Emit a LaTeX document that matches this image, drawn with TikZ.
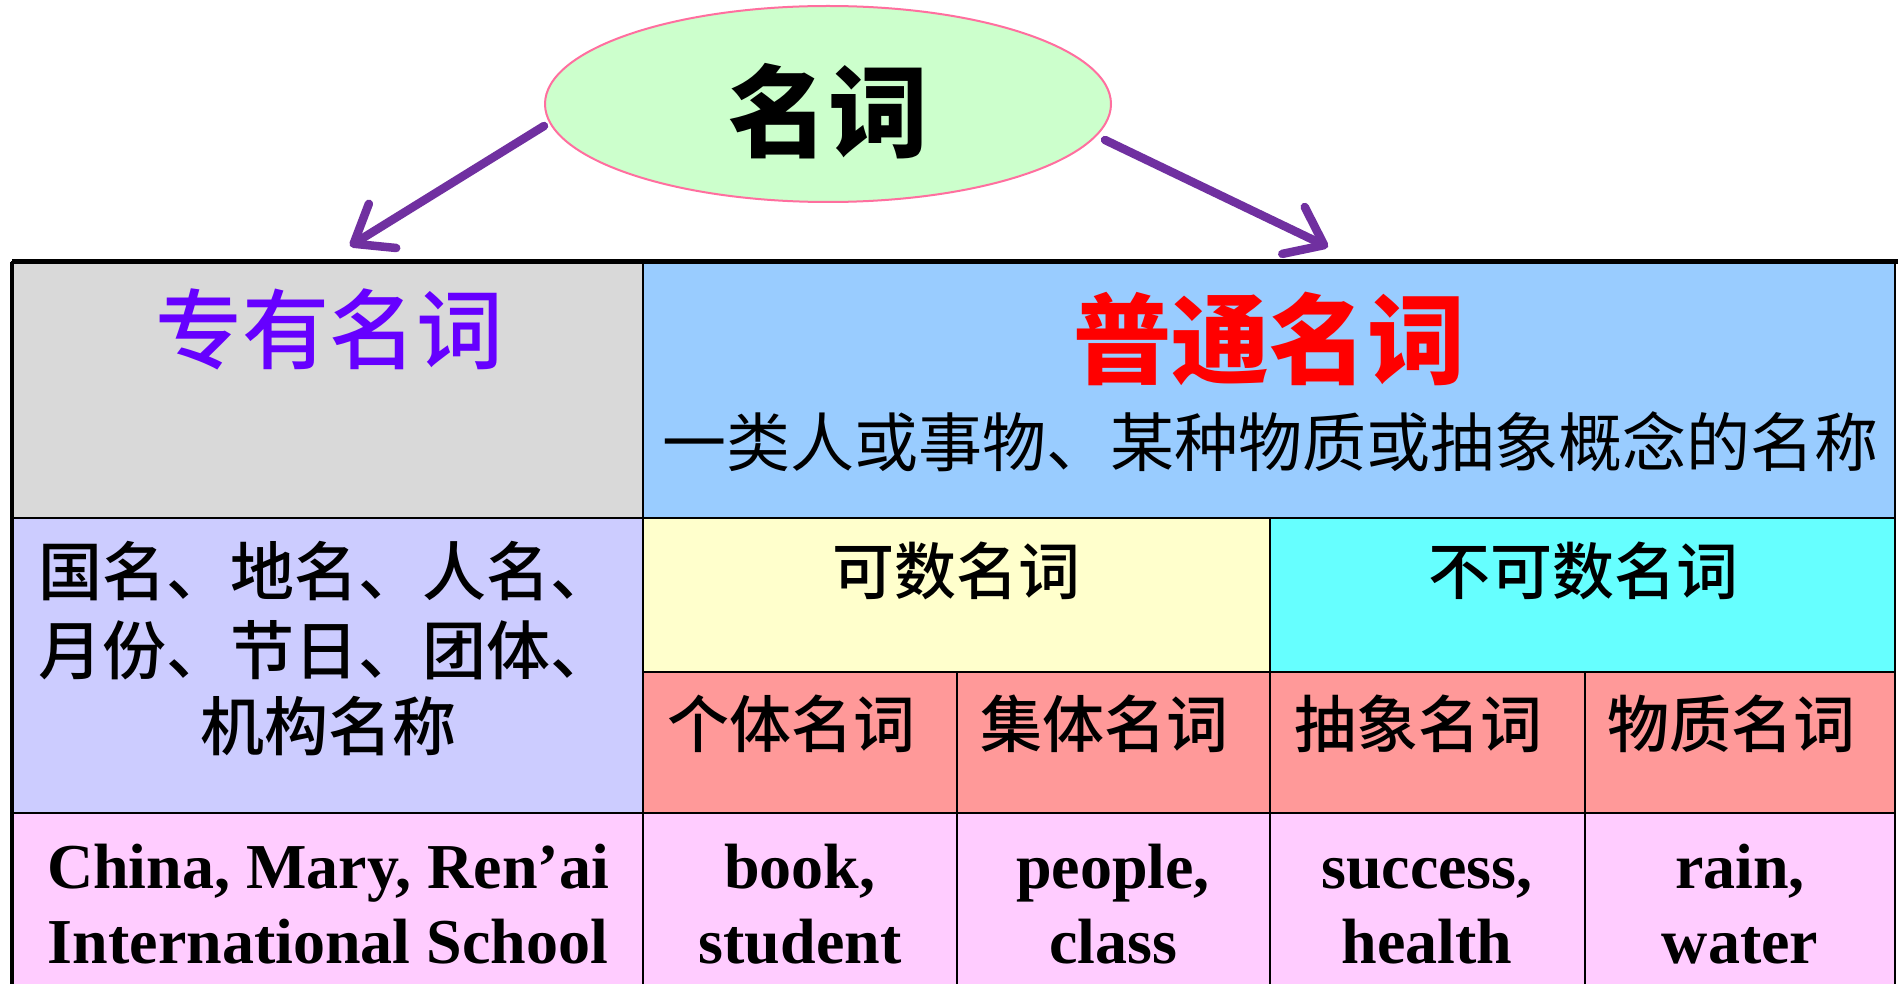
\documentclass[tikz,border=0pt]{standalone}
\usepackage{fontspec}
\setmainfont{Liberation Serif}
\newfontfamily\cjk{Noto Sans CJK SC}
\newfontfamily\cjkm{Noto Sans CJK SC Medium}
\usetikzlibrary{shapes.geometric,arrows.meta}
\definecolor{ellfill}{HTML}{CCFFCC}
\definecolor{elldraw}{HTML}{FF6F9F}
\definecolor{arrpurple}{HTML}{7030A0}
\definecolor{tpurple}{HTML}{6600FF}
\definecolor{cgray}{HTML}{D9D9D9}
\definecolor{cblue}{HTML}{99CCFF}
\definecolor{clav}{HTML}{CCCCFF}
\definecolor{cyel}{HTML}{FFFFCC}
\definecolor{ccyan}{HTML}{66FFFF}
\definecolor{csalmon}{HTML}{FF9999}
\definecolor{cpink}{HTML}{FFCCFF}
\begin{document}
\begin{tikzpicture}[x=1pt,y=-1pt,
  cell/.style={draw=black, line width=2.5pt, anchor=north west, inner sep=0pt, outer sep=0pt},
  arr/.style={draw=arrpurple, line width=8.5pt, line cap=round, line join=round, -{Straight Barb[length=34pt,width=52pt,round]}},
  zh/.style={font=\cjk\fontsize{#1}{#1}\selectfont, inner sep=0pt},
  zm/.style={font=\cjkm\fontsize{#1}{#1}\selectfont, inner sep=0pt},
  en/.style={font=\bfseries\fontsize{64}{75}\selectfont, anchor=base, inner sep=0pt}]
\useasboundingbox (0,0) rectangle (1898,984);
\fill[white] (0,0) rectangle (1898,984);
% root ellipse
\node[ellipse, draw=elldraw, line width=2pt, fill=ellfill, minimum width=566pt, minimum height=196pt, inner sep=0pt] (root) at (828,104) {};
\node[zh=100, text=black] (rootT) at (828,111) {\bfseries 名词};
\coordinate (tipL) at (350,246);
\coordinate (tipR) at (1328,247);
\draw[arr] ([yshift=-22pt]root.west) -- (tipL);
\draw[arr] ([xshift=-7pt,yshift=-36pt]root.east) -- (tipR);
% cells
\node[cell, fill=cgray, minimum width=631pt, minimum height=256pt] (pn) at (12,262) {};
\node[cell, fill=cblue, minimum width=1252pt, minimum height=256pt] (cn) at (643,262) {};
\node[cell, fill=clav, minimum width=631pt, minimum height=295pt] (pd) at (12,518) {};
\node[cell, fill=cyel, minimum width=627pt, minimum height=154pt] (cnt) at (643,518) {};
\node[cell, fill=ccyan, minimum width=625pt, minimum height=154pt] (unc) at (1270,518) {};
\node[cell, fill=csalmon, minimum width=314pt, minimum height=141pt] (c1) at (643,672) {};
\node[cell, fill=csalmon, minimum width=313pt, minimum height=141pt] (c2) at (957,672) {};
\node[cell, fill=csalmon, minimum width=315pt, minimum height=141pt] (c3) at (1270,672) {};
\node[cell, fill=csalmon, minimum width=310pt, minimum height=141pt] (c4) at (1585,672) {};
\node[cell, fill=cpink, minimum width=631pt, minimum height=176pt] (e0) at (12,813) {};
\node[cell, fill=cpink, minimum width=314pt, minimum height=176pt] (e1) at (643,813) {};
\node[cell, fill=cpink, minimum width=313pt, minimum height=176pt] (e2) at (957,813) {};
\node[cell, fill=cpink, minimum width=315pt, minimum height=176pt] (e3) at (1270,813) {};
\node[cell, fill=cpink, minimum width=310pt, minimum height=176pt] (e4) at (1585,813) {};
\draw[line width=5pt] (pn.north west) -- ([xshift=3pt]cn.north east);
\draw[line width=4pt] (pn.north west) -- (e0.south west);
% texts
\node[zm=87, text=tpurple] (t1) at (329,329) {专有名词};
\node[zh=98, text=red] (t2) at (1269,339) {\bfseries 普通名词};
\node[zh=64] (t3) at (1270,442) {一类人或事物、某种物质或抽象概念的名称};
\node[zm=64] (t4a) at (326,571) {国名、地名、人名、};
\node[zm=64] (t4b) at (326,650) {月份、节日、团体、};
\node[zm=64] (t4c) at (328,726) {机构名称};
\node[zm=62] (t5) at (956,571) {可数名词};
\node[zm=62] (t6) at (1583,571) {不可数名词};
\node[zm=62] (t7) at (791,724) {个体名词};
\node[zm=62] (t8) at (1104,724) {集体名词};
\node[zm=62] (t9) at (1418,724) {抽象名词};
\node[zm=62] (t10) at (1731,724) {物质名词};
\node[en] (u1) at (328,888) {China, Mary, Ren’ai};
\node[en] (u2) at (328,963) {International School};
\node[en] (v1) at (800,888) {book,};
\node[en] (v2) at (800,963) {student};
\node[en] (w1) at (1113,888) {people,};
\node[en] (w2) at (1113,963) {class};
\node[en] (x1) at (1427,888) {success,};
\node[en] (x2) at (1427,963) {health};
\node[en] (y1) at (1740,888) {rain,};
\node[en] (y2) at (1740,963) {water};
\end{tikzpicture}
\end{document}
